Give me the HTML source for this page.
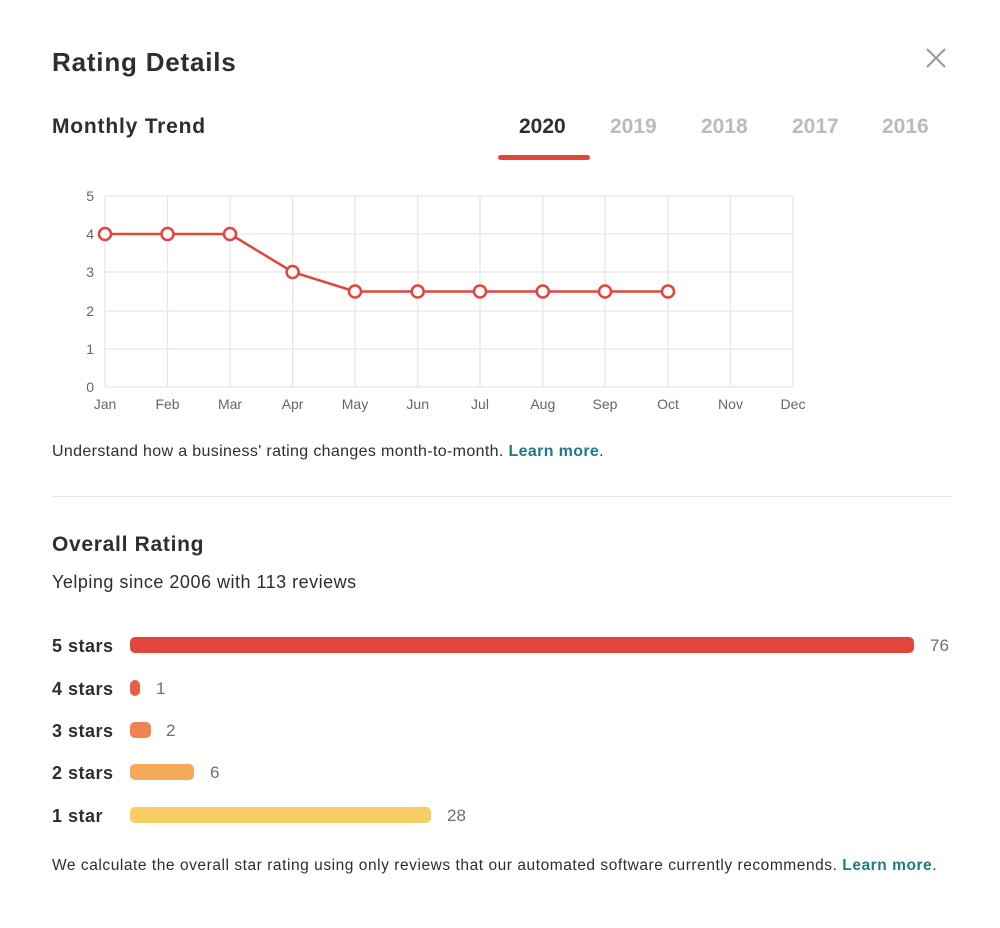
<!DOCTYPE html>
<html><head><style>
body{margin:0;width:1000px;height:928px;background:#fff;font-family:"Liberation Sans",sans-serif;color:#2d2e2f;position:relative;overflow:hidden}
.a{position:absolute;white-space:nowrap}
.h1{font-size:26px;font-weight:bold;left:52px;top:47px;letter-spacing:0.8px}
.h2{font-size:21px;font-weight:bold;left:52px;top:115px;letter-spacing:0.8px}
.yr{font-size:21px;font-weight:bold;top:115px;color:#bbbac0}
.t{font-size:16px;letter-spacing:0.35px}
.lnk{font-weight:bold;color:#1f7a86}
.lab{font-size:18px;font-weight:bold;left:52px;letter-spacing:0.5px}
.bar{position:absolute;left:130px;height:16px;border-radius:5px}
.num{font-size:17px;color:#6e7072}
</style></head><body>
<div class="a h1">Rating Details</div>
<svg class="a" style="left:924px;top:46px" width="24" height="24"><path d="M3 3L21 21M21 3L3 21" stroke="#999" stroke-width="2"/></svg>
<div class="a h2">Monthly Trend</div>
<div class="a yr" style="left:519px;color:#2d2e2f">2020</div>
<div class="a yr" style="left:610px">2019</div>
<div class="a yr" style="left:701px">2018</div>
<div class="a yr" style="left:792px">2017</div>
<div class="a yr" style="left:882px">2016</div>
<div class="a" style="left:498px;top:155px;width:92px;height:5px;border-radius:3px;background:#e2453c"></div>
<svg class="a" style="left:0;top:180px" width="820" height="240" font-family="Liberation Sans,sans-serif" font-size="14" fill="#666">
<g stroke="#e6e6e6" stroke-width="1.3">
<line x1="105" y1="16" x2="793" y2="16"/><line x1="105" y1="54" x2="793" y2="54"/><line x1="105" y1="92" x2="793" y2="92"/><line x1="105" y1="131" x2="793" y2="131"/><line x1="105" y1="169" x2="793" y2="169"/><line x1="105" y1="207" x2="793" y2="207"/>
<line x1="105" y1="16" x2="105" y2="207"/><line x1="167.5" y1="16" x2="167.5" y2="207"/><line x1="230" y1="16" x2="230" y2="207"/><line x1="292.6" y1="16" x2="292.6" y2="207"/><line x1="355" y1="16" x2="355" y2="207"/><line x1="417.7" y1="16" x2="417.7" y2="207"/><line x1="480" y1="16" x2="480" y2="207"/><line x1="542.8" y1="16" x2="542.8" y2="207"/><line x1="605" y1="16" x2="605" y2="207"/><line x1="668" y1="16" x2="668" y2="207"/><line x1="730.5" y1="16" x2="730.5" y2="207"/><line x1="793" y1="16" x2="793" y2="207"/>
</g>
<g text-anchor="end"><text x="94" y="21">5</text><text x="94" y="59">4</text><text x="94" y="97">3</text><text x="94" y="136">2</text><text x="94" y="174">1</text><text x="94" y="212">0</text></g>
<g text-anchor="middle"><text x="105" y="229">Jan</text><text x="167.5" y="229">Feb</text><text x="230" y="229">Mar</text><text x="292.6" y="229">Apr</text><text x="355" y="229">May</text><text x="417.7" y="229">Jun</text><text x="480" y="229">Jul</text><text x="542.8" y="229">Aug</text><text x="605" y="229">Sep</text><text x="668" y="229">Oct</text><text x="730.5" y="229">Nov</text><text x="793" y="229">Dec</text></g>
<polyline points="105,54 167.5,54 230,54 292.6,92 355,111.5 417.7,111.5 480,111.5 542.8,111.5 605,111.5 668,111.5" fill="none" stroke="#e2453c" stroke-width="2.5"/>
<g fill="#fff" stroke="#e2453c" stroke-width="2.5"><circle cx="105" cy="54" r="6"/><circle cx="167.5" cy="54" r="6"/><circle cx="230" cy="54" r="6"/><circle cx="292.6" cy="92" r="6"/><circle cx="355" cy="111.5" r="6"/><circle cx="417.7" cy="111.5" r="6"/><circle cx="480" cy="111.5" r="6"/><circle cx="542.8" cy="111.5" r="6"/><circle cx="605" cy="111.5" r="6"/><circle cx="668" cy="111.5" r="6"/></g>
</svg>
<div class="a t" style="left:52px;top:443px">Understand how a business' rating changes month-to-month. <span class="lnk">Learn more</span>.</div>
<div class="a" style="left:52px;top:496px;width:900px;height:1px;background:#e6e6e6"></div>
<div class="a" style="left:52px;top:533px;font-size:21px;font-weight:bold;letter-spacing:0.7px">Overall Rating</div>
<div class="a" style="left:52px;top:572px;font-size:18px;letter-spacing:0.5px">Yelping since 2006 with 113 reviews</div>
<div class="a lab" style="top:636px">5 stars</div><div class="bar" style="top:637px;width:784px;background:#e2453c"></div><div class="a num" style="left:930px;top:636px">76</div>
<div class="a lab" style="top:679px">4 stars</div><div class="bar" style="top:680px;width:10px;background:#ea5c44"></div><div class="a num" style="left:156px;top:679px">1</div>
<div class="a lab" style="top:721px">3 stars</div><div class="bar" style="top:722px;width:21px;background:#f08451"></div><div class="a num" style="left:166px;top:721px">2</div>
<div class="a lab" style="top:763px">2 stars</div><div class="bar" style="top:764px;width:64px;background:#f4a95b"></div><div class="a num" style="left:210px;top:763px">6</div>
<div class="a lab" style="top:806px">1 star</div><div class="bar" style="top:807px;width:301px;background:#f8cd63"></div><div class="a num" style="left:447px;top:806px">28</div>
<div class="a t" style="left:52px;top:857px;font-size:15.5px;letter-spacing:0.55px">We calculate the overall star rating using only reviews that our automated software currently recommends. <span class="lnk">Learn more</span>.</div>
</body></html>
